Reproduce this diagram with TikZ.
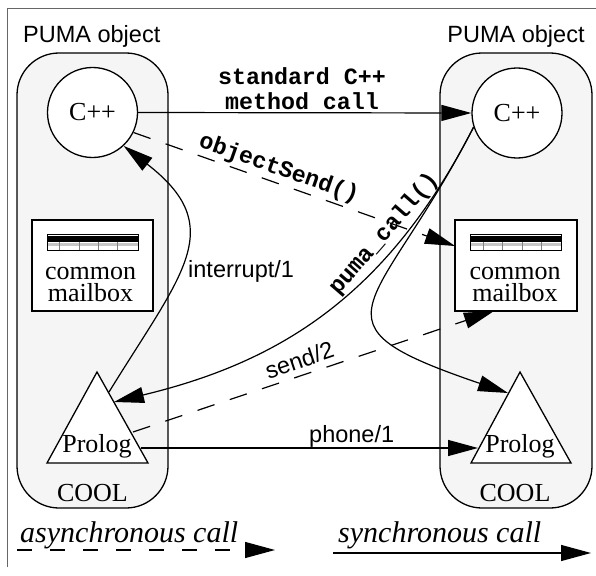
\documentclass[tikz,border=0pt]{standalone}
\usepackage{fontspec}
\setmainfont{Liberation Serif}
\setsansfont{Liberation Sans}
\setmonofont{Liberation Mono}
\usetikzlibrary{arrows.meta,calc}
\definecolor{objfill}{HTML}{F5F5F5}
\definecolor{framecol}{HTML}{666666}
\tikzset{
  conn/.style={line width=1.2pt, -{Triangle[length=30pt,width=16pt]}},
  dashconn/.style={conn, dash pattern=on 18pt off 16pt},
  objbox/.style={draw, line width=1.3pt, fill=objfill, rounded corners=42pt},
  cppnode/.style={circle, draw, line width=1.3pt, fill=white, minimum size=90pt, inner sep=0pt, font=\fontsize{26}{28}\selectfont},
  mailnode/.style={rectangle, draw, line width=1.3pt, fill=white, minimum width=121pt, minimum height=91pt, inner sep=0pt},
  seriftext/.style={inner sep=0pt, font=\fontsize{26}{22}\selectfont},
  sanslab/.style={inner sep=0pt, font=\sffamily\fontsize{23.5}{26}\selectfont},
  monolab/.style={inner sep=0pt, font=\ttfamily\bfseries\fontsize{23.3}{25}\selectfont},
  legendtext/.style={inner sep=0pt, font=\itshape\fontsize{30}{32}\selectfont},
  prologtri/.style={draw, line width=1.3pt, fill=white, line join=miter},
}
\begin{document}
\begin{tikzpicture}[x=1pt,y=-1pt]
\useasboundingbox (0,0) rectangle (596,575);
% frame
\draw[framecol, line width=1pt] (7,567) -- (7,9) -- (596,9);
% PUMA objects
\draw[objbox] (17,53) rectangle (168,508);
\draw[objbox] (440,53) rectangle (592,508);
\node[sanslab, anchor=base west] (lpuma) at (23,42.7) {PUMA object};
\node[sanslab, anchor=base] (rpuma) at (516,42.7) {PUMA object};
% C++ circles
\node[cppnode] (lc) at (92.5,112.5) {C++};
\node[cppnode] (rc) at (517,113) {C++};
% mailboxes
\node[mailnode] (lm) at (92.5,265.5) {};
\node[mailnode, minimum width=122pt] (rm) at (516,265.5) {};
\foreach \m in {lm,rm}{
  \begin{scope}[shift={(\m.north)}]
    \fill[white] (-45.5,15) rectangle (45.5,31);
    \fill[black] (-45.5,17) rectangle (45.5,22.5);
    \fill[black!22] (-45.5,24) rectangle (45.5,26.5);
    \foreach \t in {-33.2,-13.5,5.8,25.2}
      \draw[black!50, line width=0.5pt] (\t,22.5) -- (\t,31);
    \draw[line width=1pt] (-45.5,15) rectangle (45.5,31);
  \end{scope}
}
\node[seriftext, align=center] (lmt) at (90.5,284.2) {common\\mailbox};
\node[seriftext, align=center] (rmt) at (515,284.2) {common\\mailbox};
% Prolog triangles
\draw[prologtri] (97,372) -- (148,463) -- (47,463) -- cycle;
\draw[prologtri] (520,372) -- (571,463) -- (471,463) -- cycle;
\node[seriftext, anchor=base] (lpt) at (97,452) {Prolog};
\node[seriftext, anchor=base] (rpt) at (520,452) {Prolog};
\node[seriftext, anchor=base] (lcool) at (92.5,501) {COOL};
\node[seriftext, anchor=base] (rcool) at (515,501) {COOL};
% connection points
\coordinate (lpint) at (109,392);
\coordinate (lppuma) at (114,402);
\coordinate (lpsend) at (133,432);
\coordinate (lpphone) at (141,448);
\coordinate (rpphone) at (478,448);
\coordinate (rpcurve) at (508,393);
\coordinate (rmos) at (455,246);
\coordinate (rmsend) at (494,311);
% connectors
\draw[conn] (lc.east) -- (rc.west);
\node[monolab, align=center] (stdlab) at (302,89) {standard C++\\method call};
\draw[dashconn] (lc.-26) -- (rmos);
\node[monolab, rotate=-19.3] (oslab) at (279,169) {objectSend()};
\draw[conn] (rc.198) .. controls (387,296) and (280,362) .. (lppuma);
\draw[conn] (rc.198) .. controls (377.8,313.7) and (298.9,321.7) .. (rpcurve);
\node[monolab, rotate=49] (pclab) at (384,234) {puma\_call()};
\draw[conn] (lpint) .. controls (182.7,272.3) and (228.7,227.3) .. (lc.-47);
\node[sanslab, anchor=base west] (intlab) at (188,277) {interrupt/1};
\draw[dashconn] (lpsend) -- (rmsend);
\node[sanslab, rotate=18.7, anchor=base] (sendlab) at (302,368) {send/2};
\draw[conn] (lpphone) -- (rpphone);
\node[sanslab, anchor=base west] (phonelab) at (309,442) {phone/1};
% legend
\node[legendtext, anchor=base west] (async) at (20,542) {asynchronous call};
\node[legendtext, anchor=base west] (sync) at (338,542) {synchronous call};
\coordinate (a1) at (17,550);
\coordinate (a2) at (275,550);
\coordinate (s1) at (333,553);
\coordinate (s2) at (591,553);
\draw[conn, dash pattern=on 15pt off 18pt] (a1) -- (a2);
\draw[conn] (s1) -- (s2);
\end{tikzpicture}
\end{document}
